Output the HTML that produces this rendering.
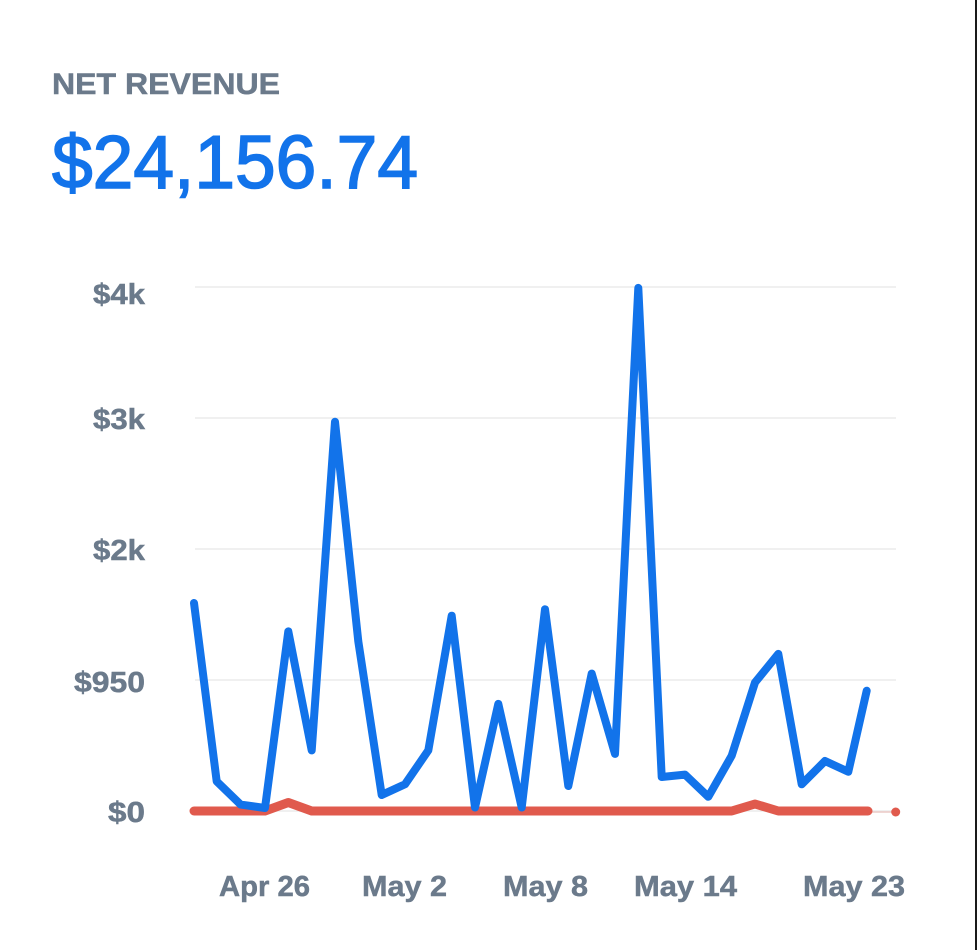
<!DOCTYPE html>
<html>
<head>
<meta charset="utf-8">
<style>
  html, body { margin: 0; padding: 0; background: #ffffff; }
  body { width: 977px; height: 950px; overflow: hidden; position: relative; }
  svg { display: block; }
  .lbl { font-family: "Liberation Sans", Arial, sans-serif; font-weight: bold; fill: #6b7a8b; stroke: #6b7a8b; stroke-width: 0.5; }
</style>
</head>
<body>
<svg width="977" height="950" viewBox="0 0 977 950" xmlns="http://www.w3.org/2000/svg">
  <rect x="0" y="0" width="977" height="950" fill="#ffffff"/>
  <!-- right border -->
  <rect x="975" y="0" width="2" height="950" fill="#1a1a1a"/>

  <!-- Title -->
  <text class="lbl" x="52" y="94" font-size="30" textLength="228" lengthAdjust="spacingAndGlyphs">NET REVENUE</text>
  <text x="52" y="188" font-family="Liberation Sans, Arial, sans-serif" font-size="75" fill="#1273ea" stroke="#1273ea" stroke-width="1.6" textLength="366" lengthAdjust="spacingAndGlyphs">$24,156.74</text>

  <!-- gridlines -->
  <g stroke="#ececec" stroke-width="1.6">
    <line x1="195" y1="287" x2="896" y2="287"/>
    <line x1="195" y1="418" x2="896" y2="418"/>
    <line x1="195" y1="549" x2="896" y2="549"/>
    <line x1="195" y1="680" x2="896" y2="680"/>
    <line x1="195" y1="811" x2="896" y2="811"/>
  </g>

  <!-- y labels -->
  <text class="lbl" x="145" y="304" font-size="29" text-anchor="end" textLength="52" lengthAdjust="spacingAndGlyphs">$4k</text>
  <text class="lbl" x="145" y="429" font-size="29" text-anchor="end" textLength="52" lengthAdjust="spacingAndGlyphs">$3k</text>
  <text class="lbl" x="145" y="560" font-size="29" text-anchor="end" textLength="52" lengthAdjust="spacingAndGlyphs">$2k</text>
  <text class="lbl" x="145" y="692" font-size="29" text-anchor="end" textLength="71" lengthAdjust="spacingAndGlyphs">$950</text>
  <text class="lbl" x="145" y="822" font-size="29" text-anchor="end" textLength="37" lengthAdjust="spacingAndGlyphs">$0</text>

  <!-- x labels -->
  <text class="lbl" x="219" y="896" font-size="29" textLength="91" lengthAdjust="spacingAndGlyphs">Apr 26</text>
  <text class="lbl" x="362" y="896" font-size="29" textLength="85" lengthAdjust="spacingAndGlyphs">May 2</text>
  <text class="lbl" x="503" y="896" font-size="29" textLength="85" lengthAdjust="spacingAndGlyphs">May 8</text>
  <text class="lbl" x="634" y="896" font-size="29" textLength="103" lengthAdjust="spacingAndGlyphs">May 14</text>
  <text class="lbl" x="803" y="896" font-size="29" textLength="102" lengthAdjust="spacingAndGlyphs">May 23</text>

  <!-- red series -->
  <line x1="868" y1="812" x2="895.7" y2="812" stroke="#eccac6" stroke-width="1.5"/>
  <circle cx="895.7" cy="812" r="4.5" fill="#e05a4d"/>
  <polyline fill="none" stroke="#e05a4d" stroke-width="9" stroke-linecap="round" stroke-linejoin="round"
    points="194,811 265,811 288.3,802.5 311.7,811 731.7,811 755,804 778.3,811 868,811"/>

  <!-- blue series -->
  <polyline fill="none" stroke="#1273ea" stroke-width="8" stroke-linecap="round" stroke-linejoin="round"
    points="194,603 216.7,781.4 240.7,804.6 265,808 288.3,631.4 311.7,750.4 335,421.8 358.3,641.4 381.7,795 405,784.3 428.3,750.4 451.7,615.7 475,807.5 498.3,703.9 521.7,807.5 545,609.3 568.3,786 591.7,673.6 615,753.9 638.3,287.9 661.7,777 685,774.6 708.3,796.8 731.7,755.7 755,682.5 778.3,653.9 801.7,784.3 825,761 848.3,771.8 866.7,690.7"/>
</svg>
</body>
</html>
